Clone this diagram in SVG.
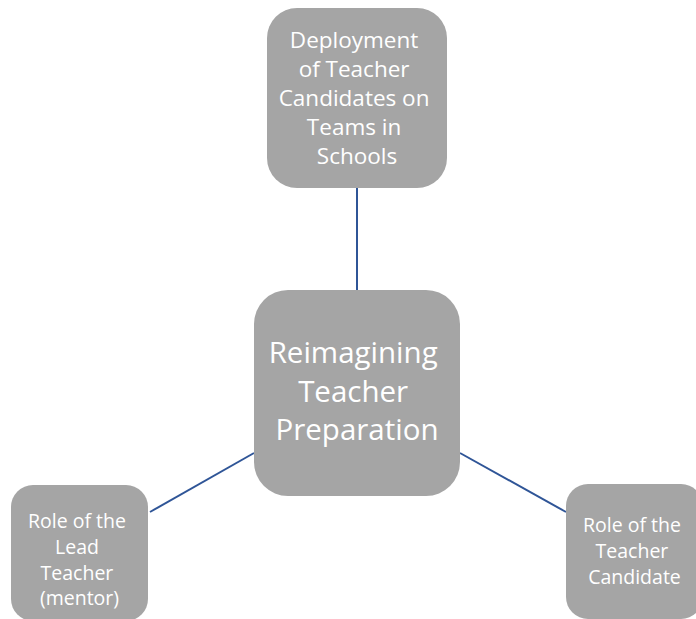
<svg xmlns="http://www.w3.org/2000/svg" width="696" height="619" viewBox="0 0 696 619">
  <style>
    .box { fill: #a5a5a5; }
    .lbl { fill: #ffffff; font-family: "Open Sans", "Noto Sans", sans-serif; text-anchor: middle; }
    .link { stroke: #2f5597; stroke-width: 2; fill: none; }
  </style>
  <rect width="696" height="619" fill="#ffffff"/>
  <g id="connectors">
    <line class="link" x1="357" y1="188" x2="357" y2="290"/>
    <line class="link" x1="150" y1="512" x2="254" y2="453"/>
    <line class="link" x1="460" y1="453" x2="566" y2="512"/>
  </g>
  <g id="deployment">
    <rect class="box" x="267" y="8" width="180" height="180" rx="30"/>
    <text class="lbl" font-size="22.5">
      <tspan x="357" y="48">Deployment</tspan>
      <tspan x="357" y="77">of Teacher</tspan>
      <tspan x="357" y="106">Candidates on</tspan>
      <tspan x="357" y="135">Teams in</tspan>
      <tspan x="357" y="164">Schools</tspan>
    </text>
  </g>
  <g id="center">
    <rect class="box" x="254" y="290" width="206" height="206" rx="34"/>
    <text class="lbl" font-size="29.5">
      <tspan x="357" y="363">Reimagining</tspan>
      <tspan x="357" y="402">Teacher</tspan>
      <tspan x="357" y="440">Preparation</tspan>
    </text>
  </g>
  <g id="lead-teacher">
    <rect class="box" x="11" y="485" width="137" height="136" rx="22"/>
    <text class="lbl" font-size="19.5">
      <tspan x="79.5" y="528">Role of the</tspan>
      <tspan x="79.5" y="554">Lead</tspan>
      <tspan x="79.5" y="580">Teacher</tspan>
      <tspan x="79.5" y="605">(mentor)</tspan>
    </text>
  </g>
  <g id="teacher-candidate">
    <rect class="box" x="566" y="484" width="137" height="135" rx="22"/>
    <text class="lbl" font-size="19.5">
      <tspan x="634.5" y="532">Role of the</tspan>
      <tspan x="634.5" y="558">Teacher</tspan>
      <tspan x="634.5" y="584">Candidate</tspan>
    </text>
  </g>
</svg>
